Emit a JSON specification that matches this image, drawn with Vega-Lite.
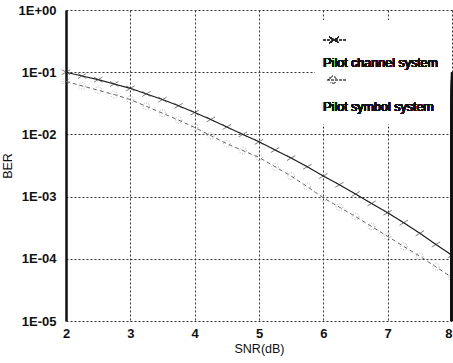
{
  "$schema": "https://vega.github.io/schema/vega-lite/v6.json",
  "autosize": "none",
  "width": 386,
  "height": 311,
  "padding": {"left": 66, "top": 10, "right": 1, "bottom": 42},
  "background": "white",
  "config": {
    "view": {"stroke": null},
    "font": "Liberation Sans",
    "axis": {
      "grid": true,
      "gridColor": "#333",
      "gridDash": [2, 2],
      "gridWidth": 1,
      "gridOpacity": 1,
      "ticks": false,
      "labelFont": "Liberation Sans",
      "labelFontWeight": "bold",
      "labelFontSize": 13,
      "labelColor": "#111",
      "titleFont": "Liberation Sans",
      "titleFontWeight": "normal",
      "titleFontSize": 12.5,
      "titleColor": "#111"
    }
  },
  "data": {
    "values": [
      {"snr": 2.0, "ber": 0.1, "series": "channel"},
      {"snr": 2.25, "ber": 0.0871, "series": "channel"},
      {"snr": 2.5, "ber": 0.0759, "series": "channel"},
      {"snr": 2.75, "ber": 0.0646, "series": "channel"},
      {"snr": 3.0, "ber": 0.055, "series": "channel"},
      {"snr": 3.25, "ber": 0.0447, "series": "channel"},
      {"snr": 3.5, "ber": 0.0363, "series": "channel"},
      {"snr": 3.75, "ber": 0.0288, "series": "channel"},
      {"snr": 4.0, "ber": 0.0224, "series": "channel"},
      {"snr": 4.25, "ber": 0.0174, "series": "channel"},
      {"snr": 4.5, "ber": 0.0132, "series": "channel"},
      {"snr": 4.75, "ber": 0.01, "series": "channel"},
      {"snr": 5.0, "ber": 0.00759, "series": "channel"},
      {"snr": 5.25, "ber": 0.00562, "series": "channel"},
      {"snr": 5.5, "ber": 0.00417, "series": "channel"},
      {"snr": 5.75, "ber": 0.00302, "series": "channel"},
      {"snr": 6.0, "ber": 0.00214, "series": "channel"},
      {"snr": 6.25, "ber": 0.00155, "series": "channel"},
      {"snr": 6.5, "ber": 0.0011, "series": "channel"},
      {"snr": 6.75, "ber": 0.000776, "series": "channel"},
      {"snr": 7.0, "ber": 0.00055, "series": "channel"},
      {"snr": 7.25, "ber": 0.00038, "series": "channel"},
      {"snr": 7.5, "ber": 0.000257, "series": "channel"},
      {"snr": 7.75, "ber": 0.00017, "series": "channel"},
      {"snr": 8.0, "ber": 0.000114, "series": "channel"},
      {"snr": 2.0, "ber": 0.0708, "series": "symbol"},
      {"snr": 2.25, "ber": 0.0603, "series": "symbol"},
      {"snr": 2.5, "ber": 0.0513, "series": "symbol"},
      {"snr": 2.75, "ber": 0.0437, "series": "symbol"},
      {"snr": 3.0, "ber": 0.0363, "series": "symbol"},
      {"snr": 3.25, "ber": 0.0282, "series": "symbol"},
      {"snr": 3.5, "ber": 0.0219, "series": "symbol"},
      {"snr": 3.75, "ber": 0.017, "series": "symbol"},
      {"snr": 4.0, "ber": 0.0129, "series": "symbol"},
      {"snr": 4.25, "ber": 0.00955, "series": "symbol"},
      {"snr": 4.5, "ber": 0.00708, "series": "symbol"},
      {"snr": 4.75, "ber": 0.0055, "series": "symbol"},
      {"snr": 5.0, "ber": 0.00427, "series": "symbol"},
      {"snr": 5.25, "ber": 0.00302, "series": "symbol"},
      {"snr": 5.5, "ber": 0.00214, "series": "symbol"},
      {"snr": 5.75, "ber": 0.00145, "series": "symbol"},
      {"snr": 6.0, "ber": 0.000955, "series": "symbol"},
      {"snr": 6.25, "ber": 0.000676, "series": "symbol"},
      {"snr": 6.5, "ber": 0.000479, "series": "symbol"},
      {"snr": 6.75, "ber": 0.000331, "series": "symbol"},
      {"snr": 7.0, "ber": 0.000229, "series": "symbol"},
      {"snr": 7.25, "ber": 0.000158, "series": "symbol"},
      {"snr": 7.5, "ber": 0.00011, "series": "symbol"},
      {"snr": 7.75, "ber": 0.0000741, "series": "symbol"},
      {"snr": 8.0, "ber": 0.0000501, "series": "symbol"}
    ]
  },
  "encoding": {
    "x": {
      "field": "snr",
      "type": "quantitative",
      "scale": {"domain": [2, 8], "nice": false, "zero": false},
      "axis": {
        "title": "SNR(dB)",
        "values": [2, 3, 4, 5, 6, 7, 8],
        "format": "d",
        "domain": false,
        "labelPadding": 6,
        "titlePadding": 2,
        "labelFlush": false,
        "labelAlign": {"condition": {"test": "datum.value === 8", "value": "right"}, "value": "center"}
      }
    },
    "y": {
      "field": "ber",
      "type": "quantitative",
      "scale": {"type": "log", "domain": [0.00001, 1], "nice": false},
      "axis": {
        "title": "BER",
        "values": [1, 0.1, 0.01, 0.001, 0.0001, 0.00001],
        "labelExpr": "datum.value >= 1 ? '1E+00' : '1E-0' + round(-log(datum.value) / LN10)",
        "domain": true,
        "domainColor": "#111",
        "domainWidth": 2.5,
        "labelPadding": 10,
        "titlePadding": 4,
        "labelFlush": false
      }
    }
  },
  "layer": [
    {
      "transform": [{"filter": "datum.series === 'symbol'"}],
      "mark": {"type": "line", "color": "#666", "strokeWidth": 1, "strokeDash": [4, 3]}
    },
    {
      "transform": [{"filter": "datum.series === 'symbol'"}],
      "mark": {"type": "point", "shape": "circle", "filled": false, "color": "#888", "size": 45, "strokeWidth": 1, "strokeDash": [1, 1.5]}
    },
    {
      "transform": [{"filter": "datum.series === 'channel'"}],
      "mark": {"type": "line", "color": "#1a1a1a", "strokeWidth": 1.1}
    },
    {
      "transform": [{"filter": "datum.series === 'channel'"}],
      "mark": {"type": "point", "shape": "M-1,-0.6L1,0.6M-1,0.6L1,-0.6", "filled": false, "color": "#333", "size": 70, "strokeWidth": 0.9}
    },
    {
      "mark": {"type": "rect", "fill": "white"},
      "encoding": {
        "x": {"datum": 5.88},
        "x2": {"datum": 7.97},
        "y": {"datum": 0.68},
        "y2": {"datum": 0.015}
      }
    },
    {
      "mark": {"type": "rule", "color": "#444", "strokeWidth": 1, "strokeDash": [2, 2]},
      "encoding": {
        "x": {"datum": 6.0},
        "x2": {"datum": 6.34},
        "y": {"datum": 0.33}
      }
    },
    {
      "mark": {"type": "point", "shape": "M-1,-0.6L1,0.6M-1,0.6L1,-0.6", "filled": false, "color": "#222", "size": 80, "strokeWidth": 1},
      "encoding": {
        "x": {"datum": 6.17},
        "y": {"datum": 0.33}
      }
    },
    {
      "mark": {"type": "rule", "color": "#777", "strokeWidth": 1, "strokeDash": [2, 2]},
      "encoding": {
        "x": {"datum": 6.06},
        "x2": {"datum": 6.34},
        "y": {"datum": 0.075}
      }
    },
    {
      "mark": {"type": "point", "shape": "circle", "filled": false, "color": "#777", "size": 50, "strokeWidth": 1, "strokeDash": [1, 1.5]},
      "encoding": {
        "x": {"datum": 6.15},
        "y": {"datum": 0.075}
      }
    },
    {
      "mark": {"type": "text", "align": "left", "baseline": "middle", "fontSize": 12.5, "font": "Liberation Sans", "fill": "#111", "text": "Pilot channel system"},
      "encoding": {
        "x": {"datum": 6.0},
        "y": {"datum": 0.1406}
      }
    },
    {
      "mark": {"type": "text", "align": "left", "baseline": "middle", "fontSize": 12.5, "font": "Liberation Sans", "fill": "#111", "text": "Pilot symbol system"},
      "encoding": {
        "x": {"datum": 6.0},
        "y": {"datum": 0.0276}
      }
    },
    {
      "mark": {"type": "rule", "color": "#111", "strokeWidth": 2.5},
      "encoding": {"x": {"datum": 8}}
    }
  ]
}
